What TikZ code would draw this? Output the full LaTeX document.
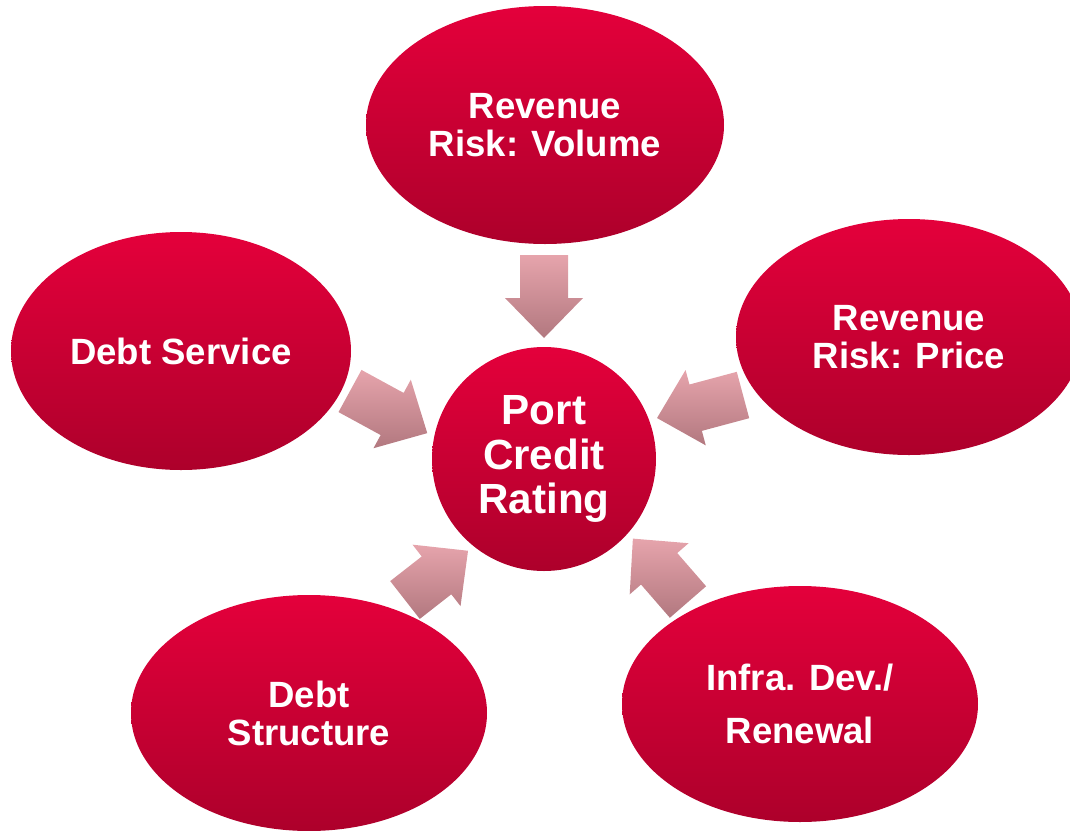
\documentclass[tikz,border=0pt]{standalone}
\usepackage{fontspec}
\setmainfont{Liberation Sans}
\usetikzlibrary{shapes.geometric,positioning}

\definecolor{bubbletop}{HTML}{E4003B}
\definecolor{bubblebot}{HTML}{AD002B}
\definecolor{arrowtop}{HTML}{E6A4AC}
\definecolor{arrowbot}{HTML}{B2787F}

\tikzset{
  bubble/.style={ellipse, top color=bubbletop, bottom color=bubblebot,
    text=white, align=center, inner sep=0pt,
    font=\bfseries\fontsize{10.4}{10.8}\selectfont},
  hub/.style={circle, top color=bubbletop, bottom color=bubblebot,
    text=white, align=center, inner sep=0pt, minimum size=2.24cm,
    font=\bfseries\fontsize{12}{12.6}\selectfont},
  % block arrow pointing along +x, #1 is its length
  inarrow/.pic={
    \shade[top color=arrowtop, bottom color=arrowbot]
      (0,-0.24) -- ({#1-0.40},-0.24) -- ({#1-0.40},-0.39) -- (#1,0)
      -- ({#1-0.40},0.39) -- ({#1-0.40},0.24) -- (0,0.24) -- cycle;
  }
}

\begin{document}
\begin{tikzpicture}
  \useasboundingbox (0,0) rectangle (10.70,8.30);

  \node[hub] (port) at (5.44,3.71) {Port\\Credit\\Rating};

  \node[bubble, minimum width=3.58cm, minimum height=2.38cm] (vol) at (5.45,7.05) {Revenue\\Risk: Volume};
  \node[bubble, minimum width=3.40cm, minimum height=2.38cm] (dsv) at (1.81,4.79) {Debt Service};
  \node[bubble, minimum width=3.46cm, minimum height=2.36cm] (prc) at (9.09,4.93) {Revenue\\Risk: Price};
  \node[bubble, minimum width=3.56cm, minimum height=2.36cm] (dst) at (3.09,1.17) {Debt\\Structure};
  \node[bubble, minimum width=3.56cm, minimum height=2.36cm] (inf) at (8.00,1.26) {Infra. Dev./\\[1.5mm]Renewal};

  % arrows into the hub
  \pic[rotate=-90] at (5.44,5.75) {inarrow=0.83};
  \pic[rotate=-28.6] at (3.50,4.39) {inarrow=0.88};
  \pic[rotate=195] at (7.43,4.35) {inarrow=0.89};
  \pic[rotate=38] at (4.05,2.30) {inarrow=0.80};
  \pic[rotate=131] at (6.88,2.28) {inarrow=0.84};
\end{tikzpicture}
\end{document}
